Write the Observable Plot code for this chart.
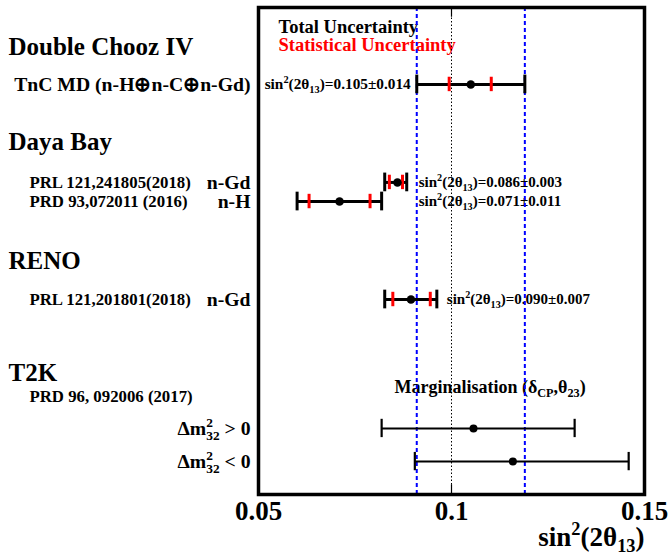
<!DOCTYPE html>
<html><head><meta charset="utf-8">
<script src="https://cdn.jsdelivr.net/npm/d3@7"></script>
<script src="https://cdn.jsdelivr.net/npm/@observablehq/plot@0.6"></script>
<style>body{margin:0;background:#fff} #chart svg{display:block}</style>
</head><body><div id="chart"></div>
<script>
// ---- data ----
const rowPos   = [3.95, 8.98, 9.96, 14.99, 21.61, 23.31];
const central  = [0.105, 0.086, 0.071, 0.0895, 0.1057, 0.1159];
const totalLo  = [0.091, 0.0827, 0.0600, 0.0827, 0.0819, 0.0905];
const totalHi  = [0.119, 0.0884, 0.0819, 0.0962, 0.1319, 0.1459];
const statLo   = [0.0994, 0.0839, 0.0631, 0.0848];
const statHi   = [0.1103, 0.0873, 0.0789, 0.0945];
const rowLabels = ["TnC MD (n-H⊕n-C⊕n-Gd)", "n-Gd", "n-H", "n-Gd", "Δm^{2}_{32} > 0", "Δm^{2}_{32} < 0"];
const groups   = ["Double Chooz IV", "Daya Bay", "RENO", "T2K"];
const groupPos = [2.05, 6.93, 12.99, 18.74];
const refs     = ["PRL 121,241805(2018)", "PRD 93,072011 (2016)", "PRL 121,201801(2018)", "PRD 96, 092006 (2017)"];
const refPos   = [8.98, 9.96, 14.99, 19.97];
const results  = ["sin^{2}(2θ_{13})=0.105±0.014", "sin^{2}(2θ_{13})=0.086±0.003", "sin^{2}(2θ_{13})=0.071±0.011", "sin^{2}(2θ_{13})=0.090±0.007"];
const t2kNote  = "Marginalisation (δ_{CP},θ_{23})";
const legend   = ["Total Uncertainty", "Statistical Uncertainty"];
const xTicks   = [0.05, 0.1, 0.15];
const xTickLabels = ["0.05", "0.1", "0.15"];
const xTitle   = "sin^{2}(2θ_{13})";

// ---- derived tables ----
const reactor = [0, 1, 2, 3];
const t2k = [4, 5];
const ends = idx => idx.flatMap(i => [{x: totalLo[i], y: rowPos[i]}, {x: totalHi[i], y: rowPos[i]}]);
const stats = reactor.flatMap(i => [{x: statLo[i], y: rowPos[i]}, {x: statHi[i], y: rowPos[i]}]);
const annotLeft = [{t: results[0], x: totalLo[0], y: rowPos[0]}];
const annotDB = [
  {t: results[1], x: totalHi[1], y: rowPos[1]},
  {t: results[2], x: totalHi[1], y: rowPos[2]}
];
const annotRENO = [{t: results[3], x: totalHi[3], y: rowPos[3]}];
const F = "Liberation Serif";
const B = {fontFamily: F, fontWeight: "bold"};

const plot = Plot.plot({
  width: 668, height: 557,
  marginLeft: 258, marginRight: 24, marginTop: 7, marginBottom: 63,
  x: {domain: [0.05, 0.15], axis: null},
  y: {domain: [0, 25], reverse: true, axis: null},
  style: {fontFamily: F, background: "white", overflow: "visible", color: "black"},
  marks: [
    // left-side labels
    Plot.text(groups, {...B, y: (d, i) => groupPos[i], frameAnchor: "left", textAnchor: "start", dx: -250, fontSize: 25}),
    Plot.text(refs, {...B, y: (d, i) => refPos[i], frameAnchor: "left", textAnchor: "start", dx: -229, fontSize: 16.8}),
    Plot.text(rowLabels, {...B, y: (d, i) => rowPos[i], frameAnchor: "left", textAnchor: "end", dx: -8, fontSize: 19.7}),
    // in-frame legend
    Plot.text([legend[0]], {...B, frameAnchor: "top-left", textAnchor: "start", lineAnchor: "bottom", dx: 20, dy: 25, fontSize: 18.5, fill: "black"}),
    Plot.text([legend[1]], {...B, frameAnchor: "top-left", textAnchor: "start", lineAnchor: "bottom", dx: 20, dy: 43, fontSize: 18.5, fill: "#ff0000"}),
    // result annotations
    Plot.text(annotLeft, {...B, x: "x", y: "y", text: "t", textAnchor: "end", dx: -6, fontSize: 15.3}),
    Plot.text(annotDB, {...B, x: "x", y: "y", text: "t", textAnchor: "start", dx: 12, fontSize: 15}),
    Plot.text(annotRENO, {...B, x: "x", y: "y", text: "t", textAnchor: "start", dx: 10, fontSize: 15}),
    Plot.text([t2kNote], {...B, x: [0.11], y: [19.5], fontSize: 18}),
    // reference lines
    Plot.ruleX([0.1], {stroke: "black", strokeWidth: 1, strokeDasharray: "1.5,2"}),
    Plot.ruleX([totalLo[0], totalHi[0]], {stroke: "#0000ff", strokeWidth: 2, strokeDasharray: "4,3"}),
    Plot.ruleX(xTicks, {y1: 0, y2: 0.5, strokeWidth: 1.2}),
    Plot.ruleX(xTicks, {y1: 24.5, y2: 25, strokeWidth: 1.2}),
    // total uncertainty bars
    Plot.ruleY(reactor, {x1: i => totalLo[i], x2: i => totalHi[i], y: i => rowPos[i], strokeWidth: 3}),
    Plot.ruleY(t2k, {x1: i => totalLo[i], x2: i => totalHi[i], y: i => rowPos[i], strokeWidth: 2}),
    Plot.ruleX(ends(reactor), {x: "x", y1: d => d.y - 0.48, y2: d => d.y + 0.48, strokeWidth: 3}),
    Plot.ruleX(ends(t2k), {x: "x", y1: d => d.y - 0.47, y2: d => d.y + 0.47, strokeWidth: 2.2}),
    // statistical ticks
    Plot.ruleX(stats, {x: "x", y1: d => d.y - 0.37, y2: d => d.y + 0.37, stroke: "#ff0000", strokeWidth: 3}),
    // central values
    Plot.dot(reactor, {x: i => central[i], y: i => rowPos[i], r: 4.3, fill: "black", stroke: "none"}),
    Plot.dot(t2k, {x: i => central[i], y: i => rowPos[i], r: 4, fill: "black", stroke: "none"}),
    // axis tick labels and title
    Plot.text(xTickLabels, {...B, x: (d, i) => xTicks[i], frameAnchor: "bottom", lineAnchor: "top", dy: 6, fontSize: 27}),
    Plot.text([xTitle], {...B, frameAnchor: "bottom-right", textAnchor: "end", lineAnchor: "bottom", dy: 51, fontSize: 27}),
    Plot.frame({stroke: "black", strokeWidth: 3.5})
  ]
});
document.getElementById("chart").appendChild(plot);

// rich text: ^{sup}, _{sub}, ^{sup}_{sub} (stacked)
const NS = "http://www.w3.org/2000/svg";
plot.querySelectorAll("text").forEach(t => {
  const s = t.textContent;
  if (!/[\^_]\{/.test(s)) return;
  while (t.firstChild) t.removeChild(t.firstChild);
  const re = /\^\{([^}]*)\}_\{([^}]*)\}|\^\{([^}]*)\}|_\{([^}]*)\}|([^^_]+)/g;
  let m;
  const add = (txt, opts = {}) => {
    const sp = document.createElementNS(NS, "tspan");
    sp.textContent = txt;
    for (const k in opts) sp.setAttribute(k, opts[k]);
    t.appendChild(sp);
  };
  while ((m = re.exec(s))) {
    if (m[1] !== undefined) {
      add(m[1], {"font-size": "68%", "baseline-shift": "0.6em"});
      add(m[2], {"font-size": "68%", "baseline-shift": "-0.35em", dx: (-0.5 * m[1].length) + "em"});
    } else if (m[3] !== undefined) {
      add(m[3], {"font-size": "68%", "baseline-shift": "0.6em"});
    } else if (m[4] !== undefined) {
      add(m[4], {"font-size": "68%", "baseline-shift": "-0.35em"});
    } else {
      add(m[5]);
    }
  }
});
</script>
</body></html>
